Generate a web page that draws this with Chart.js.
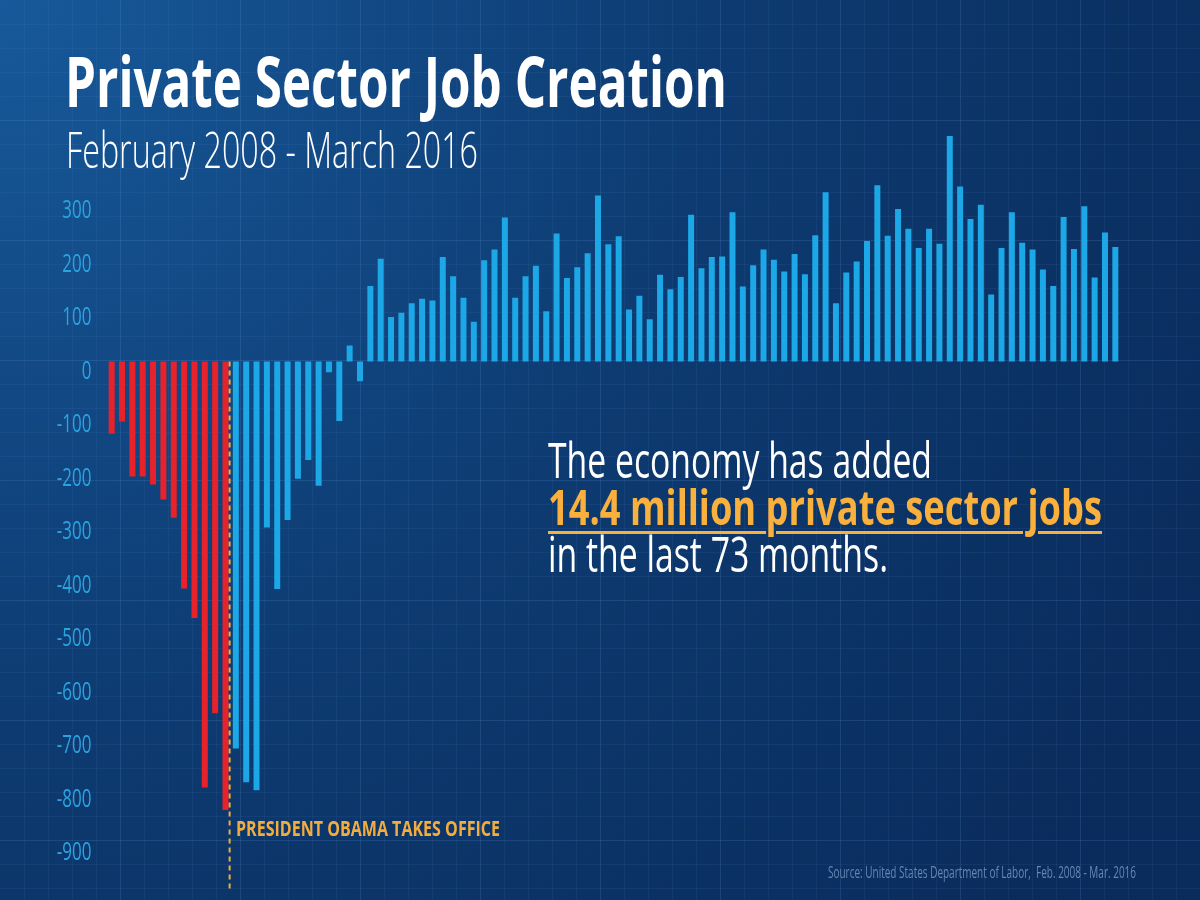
<!DOCTYPE html>
<html>
<head>
<meta charset="utf-8">
<script src="https://cdn.jsdelivr.net/npm/chart.js@4.4.1/dist/chart.umd.min.js"></script>
<style>
  html, body { margin: 0; padding: 0; background: #0c3568; }
  #wrap { position: relative; width: 1200px; height: 900px; overflow: hidden; }
  #wrap canvas { position: absolute; left: 0; top: 0; }
  .txt { position: absolute; white-space: nowrap; transform-origin: 0 0; font-family: "Open Sans", "Noto Sans", sans-serif; line-height: 1; }
  #title { left: 65px; top: 44.6px; font-size: 70px; font-weight: 700; color: #fff; }
  #subtitle { left: 66px; top: 124.8px; font-size: 49px; font-weight: 300; color: #fff; }
  .blurb { left: 548px; font-size: 49px; color: #fff; font-weight: 400; }
  #line2 { font-weight: 700; color: #f9b03c; text-decoration: underline; text-decoration-thickness: 3px; text-underline-offset: 6px; }
  #office { left: 236px; top: 815.5px; font-size: 22px; font-weight: 700; color: #f2ad3e; }
  #source { left: 828px; top: 863px; font-size: 17px; font-weight: 400; color: #6587b3; }
</style>
</head>
<body>
<div id="wrap">
  <canvas id="jobs" width="1200" height="900"></canvas>
  <div class="txt" id="title" data-w="662">Private Sector Job Creation</div>
  <div class="txt" id="subtitle" data-w="412">February 2008 - March 2016</div>
  <div class="txt blurb" id="line1" style="top:434.5px" data-w="384">The economy has added</div>
  <div class="txt blurb" id="line2" style="top:481.5px" data-w="554">14.4 million private sector jobs</div>
  <div class="txt blurb" id="line3" style="top:528.5px" data-w="340">in the last 73 months.</div>
  <div class="txt" id="office" data-w="264">PRESIDENT OBAMA TAKES OFFICE</div>
  <div class="txt" id="source" data-w="308">Source: United States Department of Labor,&nbsp; Feb. 2008 - Mar. 2016</div>
</div>
<script>
// months Feb 2008 .. Mar 2016
const monthNames = ['Jan', 'Feb', 'Mar', 'Apr', 'May', 'Jun', 'Jul', 'Aug', 'Sep', 'Oct', 'Nov', 'Dec'];
const months = [];
for (let i = 0; i < 98; i++) {
    const m = (1 + i) % 12;
    const y = 2008 + Math.floor((1 + i) / 12);
    months.push(monthNames[m] + ' ' + y);
}

// monthly change in private payrolls, thousands
const jobs = [
    -135, -112, -215, -215, -230, -258, -292, -424, -479, -796, -657, -838,
    -723, -786, -801, -310, -425, -296, -219, -184, -232, -20, -111, 30, -37,
    141, 192, 83, 91, 109, 117, 114, 195, 159, 119, 74, 189, 209, 269, 119, 159, 179, 94,
    239, 156, 176, 202, 310, 219, 234, 97, 123, 79, 162, 135, 158, 274, 174, 195, 196, 279,
    140, 180, 209, 190, 168, 201, 163, 236, 316, 109, 166, 187, 225, 329, 235, 285, 248, 212,
    248, 220, 421, 327, 266, 293, 125, 212, 279, 222, 209, 172, 141, 270, 210, 290, 157, 241, 214
];

const yTicks = [300, 200, 100, 0, -100, -200, -300, -400, -500, -600, -700, -800, -900];
const officeMonth = 'Jan 2009';

const officeIdx = months.indexOf(officeMonth);
const barColors = jobs.map((v, i) => i <= officeIdx ? '#e8222a' : '#1ca7e6');

const AXIS_RIGHT = 91.5;   // right edge of the tick labels
const SQUEEZE = 0.68;      // condensed look for the axis font

const background = {
    id: 'background',
    beforeDraw(chart) {
        const c = chart.ctx, w = chart.width, h = chart.height;
        c.save();
        const g = c.createRadialGradient(0, 0, 0, 0, 0, 1350);
        g.addColorStop(0, '#17599a');
        g.addColorStop(0.55, '#0d3a70');
        g.addColorStop(1, '#0a2c5c');
        c.fillStyle = g;
        c.fillRect(0, 0, w, h);
        c.lineWidth = 1;
        for (let x = 24, k = 1; x < w; x += 24, k++) {
            c.strokeStyle = k % 5 === 0 ? 'rgba(120,170,230,0.16)' : 'rgba(120,170,230,0.08)';
            c.beginPath(); c.moveTo(x + 0.5, 0); c.lineTo(x + 0.5, h); c.stroke();
        }
        for (let y = 24, k = 1; y < h; y += 24, k++) {
            c.strokeStyle = k % 5 === 0 ? 'rgba(120,170,230,0.16)' : 'rgba(120,170,230,0.08)';
            c.beginPath(); c.moveTo(0, y + 0.5); c.lineTo(w, y + 0.5); c.stroke();
        }
        c.restore();
        // narrow the y tick labels while the scale draws them
        c.save();
        c.translate(AXIS_RIGHT * (1 - SQUEEZE), 0);
        c.scale(SQUEEZE, 1);
    },
    beforeDatasetsDraw(chart) {
        chart.ctx.restore();
    }
};

const officeLine = {
    id: 'officeLine',
    afterDatasetsDraw(chart) {
        const xs = chart.scales.x, ys = chart.scales.y;
        const step = xs.getPixelForValue(officeIdx + 1) - xs.getPixelForValue(officeIdx);
        const x = xs.getPixelForValue(officeIdx) + step * 0.4;
        const c = chart.ctx;
        c.save();
        c.strokeStyle = '#f2ad3e';
        c.lineWidth = 2;
        c.setLineDash([5, 4]);
        c.beginPath();
        c.moveTo(x, ys.getPixelForValue(0));
        c.lineTo(x, 890);
        c.stroke();
        c.restore();
    }
};

new Chart(document.getElementById('jobs'), {
    type: 'bar',
    data: {
        labels: months,
        datasets: [{
            data: jobs,
            backgroundColor: barColors,
            borderWidth: 0,
            barPercentage: 0.58,
            categoryPercentage: 1
        }]
    },
    options: {
        responsive: false,
        animation: false,
        layout: { padding: { left: 0, right: 79.5, top: 120.6, bottom: 27.5 } },
        plugins: { legend: { display: false }, tooltip: { enabled: false } },
        scales: {
            x: { display: false, offset: true },
            y: {
                min: -950,
                max: 450,
                afterBuildTicks: axis => { axis.ticks = yTicks.map(v => ({ value: v })); },
                afterFit: axis => { axis.width = 106.5; },
                grid: { display: false, drawTicks: false },
                border: { display: false },
                ticks: {
                    color: '#2aa4e0',
                    padding: 15,
                    labelOffset: 10,
                    font: { family: "'Open Sans', sans-serif", weight: '400', size: 25 }
                }
            }
        }
    },
    plugins: [background, officeLine]
});

// squeeze the overlay text to the condensed widths of the original
function fitText() {
    document.querySelectorAll('.txt').forEach(el => {
        el.style.transform = 'none';
        const w = el.getBoundingClientRect().width;
        el.style.transform = 'scaleX(' + (parseFloat(el.dataset.w) / w) + ')';
    });
}
fitText();
if (document.fonts) document.fonts.ready.then(fitText);
</script>
</body>
</html>
